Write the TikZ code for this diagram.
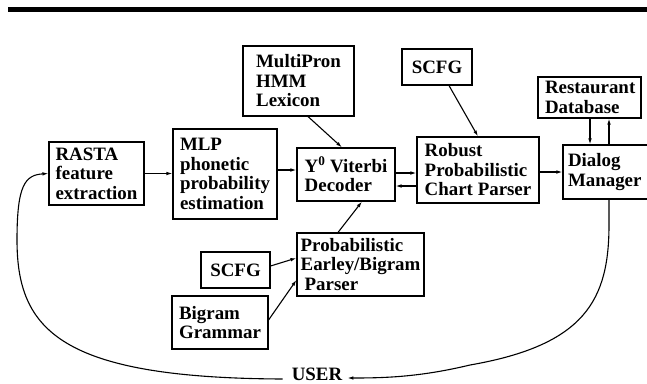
\documentclass[tikz,border=0pt]{standalone}
\usepackage{fontspec}
\setmainfont{Liberation Serif}
\usetikzlibrary{arrows.meta,calc}

\tikzset{
  blk/.style={draw, line width=1.1pt, inner sep=0pt, align=left,
    font=\bfseries\fontsize{18.9}{19.5}\selectfont},
  lbl/.style={inner sep=0pt, font=\bfseries\fontsize{18.9}{19.5}\selectfont},
  conn/.style={line width=1.1pt, -{Latex[length=6pt,width=3.6pt]}}
}

\begin{document}
\begin{tikzpicture}[x=1pt,y=-1pt]
  \useasboundingbox (0,0) rectangle (647,383);
  \clip (0,0) rectangle (647,383);

  % heavy rule along the top
  \fill (8,7) rectangle (660,11.5);

  % processing blocks
  \node[blk, minimum width=95pt, minimum height=63pt] (rasta) at (96.5,173.5)
    {RASTA\\feature\\extraction};
  \node[blk, minimum width=104pt, minimum height=90pt] (mlp) at (225,174)
    {MLP\\phonetic\\probability\\estimation};
  \node[blk, minimum width=111pt, minimum height=70pt] (lex) at (298.5,81)
    {MultiPron\\HMM\\Lexicon};
  \node[blk, minimum width=70pt, minimum height=36pt] (scfgA) at (437,67)
    {SCFG};
  \node[blk, minimum width=98pt, minimum height=53pt] (vit) at (346,174.5)
    {Y\textsuperscript{0} Viterbi\\Decoder};
  \node[blk, minimum width=122pt, minimum height=66pt] (chart) at (478,170)
    {Robust\\Probabilistic\\Chart Parser};
  \node[blk, minimum width=103pt, minimum height=41pt, text width=89pt,
        inner xsep=7pt] (rest) at (589.5,97.5)
    {\mbox{Restaurant}\\\mbox{Database}};
  \node[blk, minimum width=90pt, minimum height=54pt, text width=80pt,
        inner xsep=5pt] (dlg) at (608,172)
    {Dialog\\Manager};
  \node[blk, minimum width=127pt, minimum height=63pt] (earley) at (360.5,264.5)
    {Probabilistic\\Earley/Bigram\\\hspace{4pt}Parser};
  \node[blk, minimum width=69pt, minimum height=36pt] (scfgB) at (235.5,270)
    {SCFG};
  \node[blk, minimum width=96pt, minimum height=53pt] (bigram) at (220,322.5)
    {Bigram\\Grammar};
  \node[lbl] (user) at (317,374) {USER};

  % bends of the loop through the user
  \coordinate (lbend) at (17,240);
  \coordinate (rbend) at (470,365);

  % forward chain
  \draw[conn] (rasta.east) -- (rasta.east -| mlp.west);
  \draw[conn] ([yshift=4pt]mlp.east) -- ([yshift=4pt]mlp.east -| vit.west);
  \draw[conn] ([yshift=1.5pt]vit.east) -- ([yshift=1.5pt]vit.east -| chart.west);
  \draw[conn] ([yshift=-11.5pt]vit.east -| chart.west) -- ([yshift=-11.5pt]vit.east);
  \draw[conn] (chart.east |- dlg.west) -- (dlg.west);

  % knowledge sources
  \draw[conn] ([xshift=9.5pt]lex.south) -- ([xshift=-4pt]vit.north);
  \draw[conn] ([xshift=12pt]scfgA.south) -- (chart.north);
  \draw[conn] ([xshift=-22.5pt]earley.north) -- ([xshift=16pt]vit.south);
  \draw[conn] ([yshift=4pt]scfgB.east) -- ([yshift=6.5pt]earley.west);
  \draw[conn] ([yshift=2.5pt]bigram.east) -- ([yshift=-15.5pt]earley.west);

  % database exchange
  \draw[conn] ([xshift=0.5pt]rest.south) -- ([xshift=0.5pt]rest.south |- dlg.north);
  \draw[conn] ([xshift=19.5pt]rest.south |- dlg.north) -- ([xshift=19.5pt]rest.south);

  % loop: dialog manager -> user -> front end
  \draw[conn] ([xshift=1pt]dlg.south) -- ++(0,25)
    .. controls (609,300) and (585,345) .. (rbend)
    .. controls (420,377) and (385,378) .. ([xshift=5pt,yshift=-4pt]user.east);
  \draw[conn] ([xshift=-9pt,yshift=-5pt]user.west)
    .. controls (60,378) and (17,330) .. (lbend)
    .. controls (17,185) and (25,175) .. (rasta.west);
\end{tikzpicture}
\end{document}
